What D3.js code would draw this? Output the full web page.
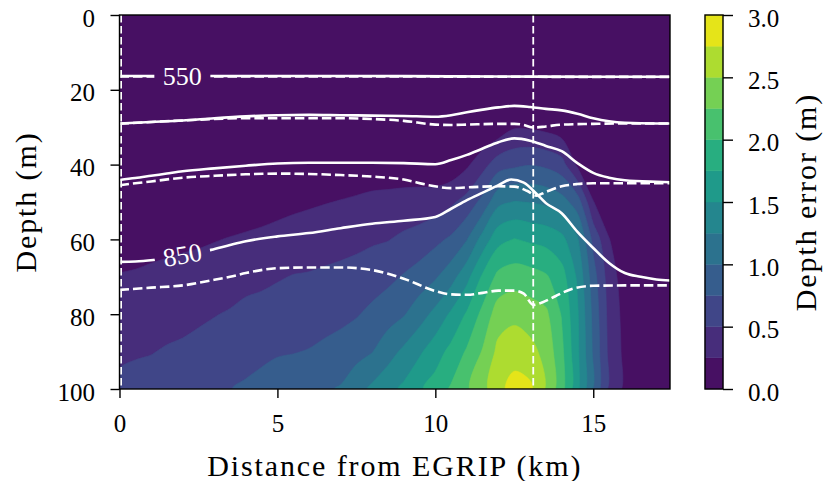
<!DOCTYPE html>
<html>
<head>
<meta charset="utf-8">
<script src="https://cdn.jsdelivr.net/npm/d3@7"></script>
<style>
  body { margin: 0; background: #fff; }
  text { font-family: "Liberation Serif", "Times New Roman", serif; }
</style>
</head>
<body>
<svg id="chart" width="826" height="481"></svg>
<script>
// Grid of the depth error field (rows = depth, columns = distance)
const distanceKm = [0, 0.5, 1, 1.5, 2, 2.5, 3, 3.5, 4, 4.5, 5, 5.5, 6, 6.5, 7, 7.5, 8, 8.5,
                    9, 9.5, 10, 10.5, 11, 11.5, 12, 12.5, 13, 13.5, 14, 14.5, 15, 15.5, 16, 16.5, 17, 17.5];
const depthM = [0, 10, 20, 30, 40, 50, 60, 70, 80, 90, 100];
const depthError = [
  [0,0,0,0,0,0,0,0,0,0,0,0,0,0,0,0,0,0,0,0,0,0,0,0,0,0,0,0,0,0,0,0,0,0,0,0],
  [0,0,0,0,0,0,0,0,0,0,0,0,0,0,0,0,0,0,0,0,0,0,0,0,0,0,0,0,0,0,0,0,0,0,0,0],
  [0,0,0,0,0,0,0,0,0,0,0,0,0,0,0,0,0,0,0,0,0,0,0,0,0,0,0,0,0,0,0,0,0,0,0,0],
  [0,0,0,0,0,0,0,0,0,0,0,0,0,0,0,0,0,0,0,0,0,0,0,0,0.08,0.23,0.22,0.18,0.10,0,0,0,0,0,0,0],
  [0,0,0,0,0,0,0,0,0,0,0.02,0.04,0.06,0.08,0.09,0.11,0.13,0.13,0.12,0.10,0.06,0.08,0.21,0.41,0.64,0.70,0.74,0.70,0.60,0.20,0,0,0,0,0,0],
  [0.06,0.065,0.07,0.09,0.10,0.105,0.11,0.12,0.13,0.15,0.17,0.20,0.22,0.24,0.26,0.28,0.30,0.31,0.33,0.35,0.38,0.46,0.59,0.83,1.19,1.26,1.24,1.20,1.10,0.88,0.26,0.05,0,0,0,0],
  [0.16,0.17,0.18,0.20,0.21,0.22,0.24,0.26,0.28,0.30,0.33,0.35,0.37,0.40,0.42,0.44,0.47,0.49,0.55,0.60,0.69,0.79,0.99,1.35,1.67,1.76,1.71,1.67,1.57,1.28,0.68,0.26,0.05,0,0,0],
  [0.26,0.27,0.29,0.30,0.32,0.34,0.36,0.39,0.43,0.45,0.48,0.51,0.52,0.54,0.56,0.59,0.63,0.69,0.77,0.86,0.97,1.15,1.42,1.79,2.07,2.13,2.10,2.03,1.85,1.46,0.85,0.38,0.12,0,0,0],
  [0.36,0.38,0.39,0.41,0.43,0.46,0.49,0.52,0.56,0.58,0.61,0.63,0.64,0.66,0.69,0.73,0.81,0.89,0.98,1.14,1.32,1.54,1.78,2.07,2.38,2.44,2.37,2.30,1.98,1.53,0.93,0.42,0.17,0,0,0],
  [0.46,0.48,0.49,0.52,0.54,0.57,0.60,0.63,0.67,0.70,0.73,0.74,0.76,0.80,0.84,0.92,0.99,1.15,1.30,1.46,1.64,1.82,2.03,2.27,2.57,2.64,2.58,2.42,2.06,1.55,0.96,0.44,0.19,0,0,0],
  [0.55,0.57,0.60,0.62,0.65,0.68,0.72,0.745,0.78,0.82,0.86,0.90,0.94,0.97,1.02,1.15,1.30,1.42,1.55,1.72,1.85,2.03,2.22,2.42,2.68,2.85,2.80,2.48,2.10,1.57,0.98,0.45,0.20,0,0,0]
];
const errorLevels = [0, 0.25, 0.5, 0.75, 1, 1.25, 1.5, 1.75, 2, 2.25, 2.5, 2.75, 3];

// Layer lines: [distance km, depth m]
const solid550 = [[0,16.3],[3,16.3],[6,16.3],[9,16.35],[12,16.45],[15,16.5],[17.43,16.5]];
const dashed550 = [[0,16.4],[3,16.4],[6,16.4],[9,16.45],[12,16.5],[15,16.55],[17.43,16.55]];
const solid2 = [[0,29],[1,28.6],[2,28.2],[3,27.6],[4,27.1],[5,26.8],[6,26.7],[7,26.8],[8,26.9],[9,27.0],
                [10,27.2],[10.5,26.8],[11,26],[11.5,25.3],[12,24.7],[12.5,24.3],[13,24.6],[13.5,25.1],
                [14,25.5],[14.5,26.4],[15,27.6],[15.5,28.4],[16,28.8],[17,29],[17.43,29]];
const dashed2 = [[0,29.1],[1,28.6],[2,28.2],[3,27.8],[4,27.6],[5,27.6],[6,27.6],[7,27.6],[8,27.8],[9,28.3],
                 [10,29.3],[10.5,29.4],[11,29.3],[12,29.1],[12.5,29.1],[12.8,29.4],[13.1,30.1],[13.5,29.8],
                 [14,29.3],[15,29.1],[16,29],[17.43,29]];
const solid3 = [[0,44.1],[0.5,43.6],[1,43.0],[1.5,42.4],[2,41.8],[3,41.0],[4,40.3],[5,39.7],[6,39.5],[7,39.5],
                [8,39.5],[9,39.6],[10,39.9],[10.5,38.8],[11,37.4],[11.5,35.7],[12,34.0],[12.5,33.0],[13,33.6],
                [13.5,35.0],[14,36.4],[14.5,39.6],[15,42.2],[15.5,43.5],[16,44.2],[17,44.6],[17.43,44.7]];
const dashed3 = [[0,45.5],[1,44.5],[2,43.5],[3,43.0],[4,42.6],[5,42.4],[6,42.5],[7,42.8],[8,43.2],[9,44.0],
                 [9.8,45.5],[10.5,46.3],[11,46.1],[11.5,45.9],[12,45.8],[12.5,45.9],[12.9,47],[13.2,48.3],
                 [13.5,47.3],[14,45.8],[14.5,45.2],[15,45],[17.43,45]];
const solid850 = [[0,66],[0.5,65.9],[1.07,65.5],[2.9,62.8],[3.5,61.5],[4,60.5],[5,59.2],[6,58.3],[7,57],
                  [8,55.8],[9,55],[10,54],[10.5,51.8],[11,49.5],[11.5,47.5],[12,45.5],[12.4,44],[12.8,44.8],
                  [13.2,47.8],[13.5,50.3],[14,53],[14.5,58],[15,62.3],[15.5,66.3],[16,69],[16.5,70],
                  [17,70.7],[17.43,71]];
const dashed850 = [[0,73.5],[1,72.9],[2,72.3],[3,70.8],[3.5,70],[4,69],[5,67.7],[6,67.5],[7,67.5],[8,68.2],
                   [9,70.5],[10,73.8],[10.5,74.7],[11,74.8],[11.5,74.3],[12,73.7],[12.5,73.7],[12.8,74.5],
                   [13.1,77.5],[13.4,76.8],[13.8,75.2],[14.3,73.3],[15,72.4],[16,72.3],[17.43,72.3]];

const labelText = ['550', '850'];
const labelKm = [1.99, 1.99];
const markerKm = [0.05, 13.1];

const xTicks = [0, 5, 10, 15];
const yTicks = [0, 20, 40, 60, 80, 100];
const cbTicks = [0, 0.5, 1, 1.5, 2, 2.5, 3];

// Layout
const svg = d3.select('#chart');
const x = d3.scaleLinear().domain([0, 17.43]).range([119.5, 670]);
const y = d3.scaleLinear().domain([0, 100]).range([15, 389]);
const cb = d3.scaleLinear().domain([0, 3]).range([389, 15]);
const cbX = 705, cbW = 18;
const bandColor = lo => d3.interpolateViridis((lo + 0.125) / 3);

const defs = svg.append('defs');
defs.append('clipPath').attr('id', 'plotClip')
  .append('rect')
  .attr('x', x(0)).attr('y', y(0))
  .attr('width', x(17.43) - x(0)).attr('height', y(100) - y(0));

// Filled contours
const nx = distanceKm.length, ny = depthM.length;
const stepKm = distanceKm[1] - distanceKm[0];
const stepM = depthM[1] - depthM[0];
const contours = d3.contours()
  .size([nx, ny])
  .thresholds(errorLevels.slice(0, -1))(depthError.flat());

// grid coords -> pixels, then smooth each ring a little
const toPx = p => [x(distanceKm[0] + (p[0] - 0.5) * stepKm), y(depthM[0] + (p[1] - 0.5) * stepM)];
const ringLine = d3.line().curve(d3.curveCatmullRomClosed.alpha(0.5));
function bandPath(c) {
  return c.coordinates.map(poly =>
    poly.map(ring => ringLine(ring.slice(0, -1).map(toPx))).join('')
  ).join('');
}

const plot = svg.append('g').attr('clip-path', 'url(#plotClip)');
plot.selectAll('path.band')
  .data(contours)
  .join('path')
  .attr('class', 'band')
  .attr('d', bandPath)
  .attr('fill-rule', 'evenodd')
  .attr('fill', d => bandColor(d.value))
  .attr('stroke', d => bandColor(d.value))
  .attr('stroke-width', 0.6);

// Label gaps in the layer lines
function depthAt(line, km) {
  for (let i = 1; i < line.length; i++) {
    if (km <= line[i][0]) {
      const t = (km - line[i - 1][0]) / (line[i][0] - line[i - 1][0]);
      return line[i - 1][1] + t * (line[i][1] - line[i - 1][1]);
    }
  }
  return line[line.length - 1][1];
}
const labelLines = [solid550, solid850];
const labels = labelText.map((t, i) => {
  const km = labelKm[i];
  const line = labelLines[i];
  const px = x(km), py = y(depthAt(line, km));
  const a = Math.atan2(y(depthAt(line, km + 0.5)) - y(depthAt(line, km - 0.5)), x(km + 0.5) - x(km - 0.5));
  return { text: t, px, py, angle: a * 180 / Math.PI };
});

const mask = defs.append('mask').attr('id', 'gapMask').attr('maskUnits', 'userSpaceOnUse')
  .attr('x', 0).attr('y', 0).attr('width', 826).attr('height', 481);
mask.append('rect').attr('width', 826).attr('height', 481).attr('fill', '#fff');
labels.forEach(l => {
  mask.append('rect')
    .attr('x', -28).attr('y', -14).attr('width', 56).attr('height', 28)
    .attr('transform', `translate(${l.px},${l.py}) rotate(${l.angle})`)
    .attr('fill', '#000');
});

const line = d3.line().x(d => x(d[0])).y(d => y(d[1])).curve(d3.curveMonotoneX);
const lineGroup = plot.append('g').attr('mask', 'url(#gapMask)');
[dashed550, dashed2, dashed3, dashed850].forEach(data => {
  lineGroup.append('path').attr('d', line(data))
    .attr('fill', 'none').attr('stroke', '#fff')
    .attr('stroke-width', 2.6).attr('stroke-dasharray', '9.5,4');
});
[solid550, solid2, solid3, solid850].forEach(data => {
  lineGroup.append('path').attr('d', line(data))
    .attr('fill', 'none').attr('stroke', '#fff')
    .attr('stroke-width', 2.6).attr('stroke-linejoin', 'round');
});

labels.forEach(l => {
  plot.append('text')
    .attr('transform', `translate(${l.px},${l.py}) rotate(${l.angle})`)
    .attr('text-anchor', 'middle').attr('dy', '0.34em')
    .attr('fill', '#fff').attr('font-size', 26)
    .text(l.text);
});

// Vertical markers
plot.selectAll('line.marker')
  .data(markerKm)
  .join('line')
  .attr('class', 'marker')
  .attr('x1', d => x(d)).attr('x2', d => x(d))
  .attr('y1', y(0)).attr('y2', y(100))
  .attr('stroke', '#fff').attr('stroke-width', 1.8)
  .attr('stroke-dasharray', '7.5,3.5');

// Frame
svg.append('rect')
  .attr('x', x(0)).attr('y', y(0))
  .attr('width', x(17.43) - x(0)).attr('height', y(100) - y(0))
  .attr('fill', 'none').attr('stroke', '#000').attr('stroke-width', 1.4);

// Axes
const xAxis = svg.append('g')
  .attr('transform', `translate(0,${y(100)})`)
  .call(d3.axisBottom(x).tickValues(xTicks).tickSize(9).tickFormat(d3.format('d')));
xAxis.selectAll('text').attr('y', 43).attr('dy', null);

const yAxis = svg.append('g')
  .attr('transform', `translate(${x(0)},0)`)
  .call(d3.axisLeft(y).tickValues(yTicks).tickSize(9).tickPadding(15.5).tickFormat(d3.format('d')));
yAxis.selectAll('text').attr('dy', 11);

[xAxis, yAxis].forEach(g => {
  g.select('.domain').remove();
  g.selectAll('line').attr('stroke-width', 1.4);
  g.selectAll('text').attr('font-size', 25).attr('fill', '#000')
    .style('font-family', '"Liberation Serif", serif');
});

svg.append('text')
  .attr('x', (x(0) + x(17.43)) / 2).attr('y', 476)
  .attr('text-anchor', 'middle').attr('font-size', 30).attr('letter-spacing', 1.9)
  .text('Distance from EGRIP (km)');
svg.append('text')
  .attr('transform', `translate(35.5,${(y(0) + y(100)) / 2}) rotate(-90)`)
  .attr('text-anchor', 'middle').attr('font-size', 30).attr('letter-spacing', 1.9)
  .text('Depth (m)');

// Colorbar
const cbG = svg.append('g');
cbG.selectAll('rect.cb')
  .data(errorLevels.slice(0, -1))
  .join('rect')
  .attr('class', 'cb')
  .attr('x', cbX).attr('width', cbW)
  .attr('y', d => cb(d + 0.25)).attr('height', d => cb(d) - cb(d + 0.25))
  .attr('fill', d => bandColor(d))
  .attr('stroke', d => bandColor(d)).attr('stroke-width', 0.4);
cbG.append('rect')
  .attr('x', cbX).attr('y', cb(3)).attr('width', cbW).attr('height', cb(0) - cb(3))
  .attr('fill', 'none').attr('stroke', '#000').attr('stroke-width', 1.4);

const cbAxis = svg.append('g')
  .attr('transform', `translate(${cbX + cbW},0)`)
  .call(d3.axisRight(cb).tickValues(cbTicks).tickSize(10).tickPadding(15).tickFormat(d3.format('.1f')));
cbAxis.select('.domain').remove();
cbAxis.selectAll('line').attr('stroke-width', 1.4);
cbAxis.selectAll('text').attr('dy', 11).attr('font-size', 25).attr('fill', '#000')
  .style('font-family', '"Liberation Serif", serif');

svg.append('text')
  .attr('transform', `translate(815.5,${(cb(0) + cb(3)) / 2}) rotate(-90)`)
  .attr('text-anchor', 'middle').attr('font-size', 30).attr('letter-spacing', 1.9)
  .text('Depth error (m)');
</script>
</body>
</html>
